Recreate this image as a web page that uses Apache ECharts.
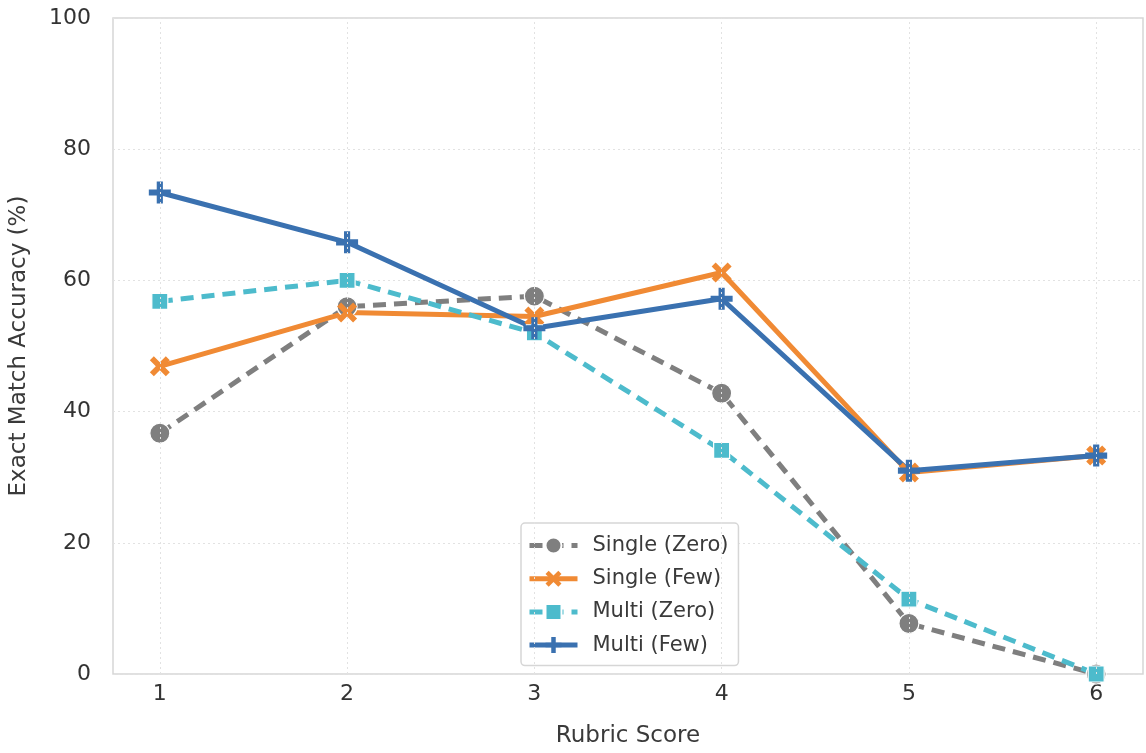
<!DOCTYPE html>
<html>
<head>
<meta charset="utf-8">
<script src="https://cdn.jsdelivr.net/npm/echarts@6/dist/echarts.min.js"></script>
<style>
html,body{margin:0;padding:0;background:#fff;}
#chart{width:1146px;height:753px;}
</style>
</head>
<body>
<div id="chart"></div>
<script>
const rubricScores = [1, 2, 3, 4, 5, 6];
const singleZero = [36.7, 56.0, 57.6, 42.8, 7.7, 0.0];
const singleFew  = [46.9, 55.1, 54.5, 61.2, 30.7, 33.3];
const multiZero  = [56.8, 60.0, 52.0, 34.1, 11.4, 0.0];
const multiFew   = [73.4, 65.8, 52.7, 57.2, 31.0, 33.3];
const yTicks = [0, 20, 40, 60, 80, 100];

const FONT = 'DejaVu Sans';
const xPath = 'path://M0,20L20,0L50,30L80,0L100,20L70,50L100,80L80,100L50,70L20,100L0,80L30,50Z';
const plusPath = 'path://M36,0L64,0L64,36L100,36L100,64L64,64L64,100L36,100L36,64L0,64L0,36L36,36Z';

function pairs(vals){ return rubricScores.map((x,i)=>[x, vals[i]]); }

function mk(name, vals, color, symbol, size, dashed, bw){
  return {
    name, type:'line', data: pairs(vals), z: 3,
    symbol, symbolSize: size, showSymbol: true,
    lineStyle:{ color, width: 5, type: dashed ? [13,8] : 'solid', cap:'butt' },
    itemStyle:{ color, borderColor:'#fff', borderWidth: bw },
    emphasis:{ disabled:true },
    animation:false
  };
}

const chart = echarts.init(document.getElementById('chart'), null, {renderer:'canvas'});
chart.setOption({
  backgroundColor:'#fff',
  animation:false,
  grid:{ left:113, right:3, top:18, bottom:78, show:true, borderColor:'#d6d6d6', borderWidth:1.5, backgroundColor:'transparent' },
  xAxis:{
    type:'value', min:0.75, max:6.25, interval:0.25,
    name:'Rubric Score', nameLocation:'middle', nameGap:51,
    nameTextStyle:{ fontFamily:FONT, fontSize:23, color:'#3a3a3a' },
    axisLine:{show:false}, axisTick:{show:false}, splitLine:{show:false},
    axisLabel:{ fontFamily:FONT, fontSize:22, color:'#333', margin:9,
      formatter: v => (Math.abs(v-Math.round(v))<1e-9 && rubricScores.includes(Math.round(v))) ? String(Math.round(v)) : '' }
  },
  yAxis:{
    type:'value', min:yTicks[0], max:yTicks[yTicks.length-1], interval:20,
    name:'Exact Match Accuracy (%)', nameLocation:'middle', nameGap:82,
    nameTextStyle:{ fontFamily:FONT, fontSize:23, color:'#3a3a3a' },
    axisLine:{show:false}, axisTick:{show:false},
    splitLine:{ show:true, lineStyle:{ color:'#e2e2e2', width:1, type:[2,3] } },
    axisLabel:{ fontFamily:FONT, fontSize:22, color:'#333', margin:22 }
  },
  legend:{
    orient:'vertical', left:521, top:523,
    backgroundColor:'#fff', borderColor:'#d6d6d6', borderWidth:1.5, borderRadius:4,
    padding:[12,10,10,6],
    itemWidth:48, itemHeight:20, itemGap:12.2,
    lineStyle:{ width:5 },
    textStyle:{ fontFamily:FONT, fontSize:21, color:'#3a3a3a', lineHeight:20, padding:[0,0,0,10] },
    data:['Single (Zero)','Single (Few)','Multi (Zero)','Multi (Few)']
  },
  series:[
    {
      name:'grid-x', type:'line', data:[], z:1, silent:true,
      markLine:{ silent:true, symbol:['none','none'], label:{show:false}, animation:false,
        lineStyle:{ color:'#e2e2e2', width:1, type:[2,3] },
        data: rubricScores.map(x=>({xAxis:x})) }
    },
    mk('Single (Zero)', singleZero, '#7f7f7f', 'circle', 20, true, 1.2),
    mk('Single (Few)', singleFew, '#f08a34', xPath, 20, false, 0),
    mk('Multi (Zero)', multiZero, '#4dbbcc', 'rect', 16, true, 1.2),
    mk('Multi (Few)', multiFew, '#3a71b0', plusPath, 22, false, 0)
  ]
});
</script>
</body>
</html>
